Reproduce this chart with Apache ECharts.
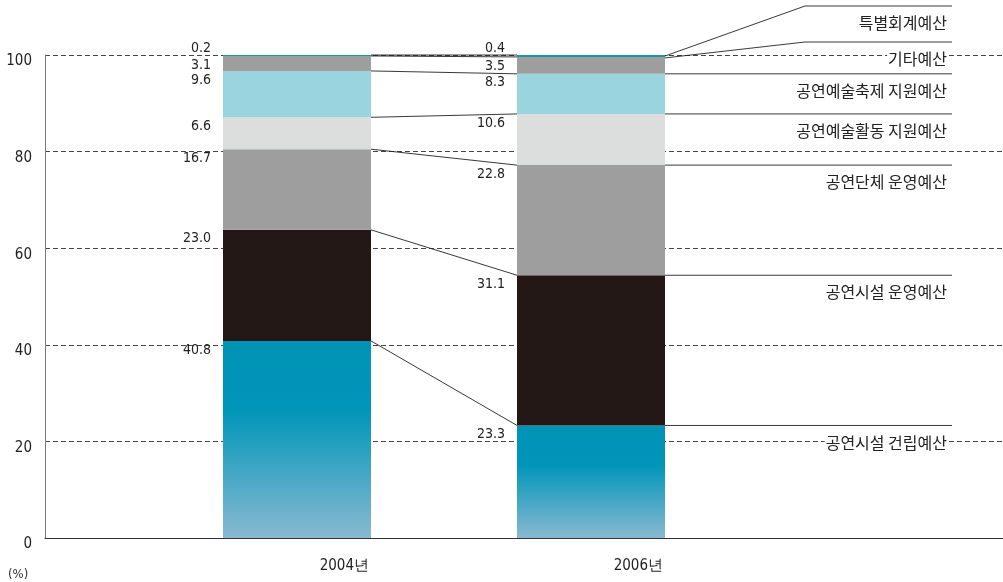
<!DOCTYPE html>
<html><head><meta charset="utf-8">
<script src="https://cdn.jsdelivr.net/npm/echarts@6/dist/echarts.min.js"></script>
<style>html,body{margin:0;padding:0;background:#fff}#c{width:1003px;height:582px}</style>
</head><body><div id="c"></div>
<script>
const categories = ['2004년', '2006년'];
const seriesNames = ['공연시설 건립예산', '공연시설 운영예산', '공연단체 운영예산', '공연예술활동 지원예산', '공연예술축제 지원예산', '기타예산', '특별회계예산'];
const values2004 = [40.8, 23.0, 16.7, 6.6, 9.6, 3.1, 0.2];
const values2006 = [23.3, 31.1, 22.8, 10.6, 8.3, 3.5, 0.4];
const yMin = 0, yMax = 100, yInterval = 20;
const unitLabel = '(%)';

const NUM_FONT = '"Liberation Sans Narrow","DejaVu Sans Condensed","Liberation Sans",sans-serif';
const KR_FONT = '"Noto Sans CJK KR","Noto Sans",sans-serif';
const colors = [
  {type:'linear',x:0,y:0,x2:0,y2:1,colorStops:[{offset:0,color:'#0093b6'},{offset:0.35,color:'#0096b9'},{offset:1,color:'#88b9d1'}]},
  '#231815', '#9e9e9e', '#dcdddd', '#99d4df', '#9e9e9e', '#1896a8'
];
const BAR_W = 148;

function cum(arr){ let s=0; return arr.map(v => (s += v, +s.toFixed(2))); }
const top04 = cum(values2004), top06 = cum(values2006);

const series = seriesNames.map((name, i) => ({
  name, type: 'bar', stack: 'total', xAxisIndex: 1, yAxisIndex: 1,
  barWidth: BAR_W, itemStyle: { color: colors[i] },
  data: [values2004[i], values2006[i]],
  label: {
    show: true,
    position: i === 6 ? [-12, 0] : [-12, 2],
    align: 'right', verticalAlign: i === 6 ? 'bottom' : 'top',
    formatter: p => p.value.toFixed(1),
    fontFamily: NUM_FONT, fontSize: 14, color: '#222'
  },
  silent: true
}));

const linkData = seriesNames.map((n, i) => [0, top04[i], top06[i], i]);
series.push({
  type: 'custom', xAxisIndex: 1, yAxisIndex: 1, silent: true, clip: false, z: 5,
  encode: { x: 0, y: 1 },
  data: linkData,
  renderItem: function(params, api){
    const i = api.value(3);
    const a = api.coord([0, api.value(1)]);
    const b = api.coord([1, api.value(2)]);
    const x1 = a[0] + BAR_W/2, x2 = b[0] - BAR_W/2, x3 = b[0] + BAR_W/2;
    const lineStyle = { stroke: '#222', lineWidth: 0.9 };
    const children = [
      { type: 'line', shape: { x1: x1, y1: a[1], x2: x2, y2: b[1] }, style: lineStyle }
    ];
    let ly = b[1];
    const xEnd = 952;
    if (i === 6 || i === 5) {
      ly = i === 6 ? 6 : 42;
      children.push({ type: 'polyline', shape: { points: [[x3, b[1] + 1], [805, ly], [xEnd, ly]] }, style: { stroke: '#222', lineWidth: 0.9, fill: null } });
    } else {
      children.push({ type: 'line', shape: { x1: x3, y1: ly, x2: xEnd, y2: ly }, style: lineStyle });
    }
    children.push({ type: 'text', z2: 10, style: { text: seriesNames[i], x: 948, y: ly + 17, align: 'right', verticalAlign: 'middle', fontFamily: KR_FONT, fontSize: 16, fill: '#222', backgroundColor: '#fff', padding: [0, 1] } });
    if (i === 0) {
      categories.forEach((c, ci) => {
        const p = api.coord([ci, yMin]);
        children.push({ type: 'text', style: { text: c, x: p[0] + BAR_W/2 - 2, y: p[1] + 28, align: 'right', verticalAlign: 'middle', fontFamily: NUM_FONT, fontSize: 15, fill: '#222' } });
      });
    }
    return { type: 'group', children: children };
  }
});

const chart = echarts.init(document.getElementById('c'), null, { renderer: 'canvas' });
chart.setOption({
  animation: false,
  backgroundColor: '#fff',
  grid: [
    { left: 45, right: 0, top: 55, bottom: 44 },
    { left: 150, width: 588, top: 55, bottom: 44 }
  ],
  xAxis: [
    { gridIndex: 0, type: 'value', min: 0, max: 1, axisLine: { show: true, lineStyle: { color: '#333', width: 1 } }, axisTick: { show: false }, axisLabel: { show: false }, splitLine: { show: false } },
    { gridIndex: 1, type: 'category', data: categories, axisLine: { show: false }, axisTick: { show: false }, axisLabel: { show: false } }
  ],
  yAxis: [
    { gridIndex: 0, type: 'value', min: yMin, max: yMax, interval: yInterval,
      axisLine: { show: true, lineStyle: { color: '#777' } }, axisTick: { show: false },
      axisLabel: { margin: 13, fontFamily: NUM_FONT, fontSize: 15, color: '#222', verticalAlign: 'top', padding: [-1, 0, 0, 0] },
      splitLine: { show: true, lineStyle: { color: '#444', type: [5, 3], width: 1 } } },
    { gridIndex: 1, type: 'value', min: yMin, max: yMax, show: false }
  ],
  graphic: [
    { type: 'text', left: 8, top: 568, style: { text: unitLabel, fontFamily: NUM_FONT, fontSize: 13, fill: '#333' } }
  ],
  series: series
});
</script>
</body></html>
